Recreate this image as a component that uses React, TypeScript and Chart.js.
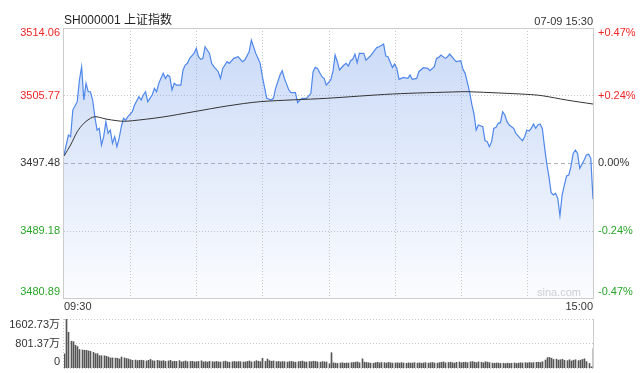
import React, { useEffect, useRef } from "react";
import { Chart, registerables } from "chart.js";
Chart.register(...registerables);

const title = "SH000001 上证指数";
const stamp = "07-09 15:30";
const timeLabels = ["09:30", "15:00"];
const gridMinutes = [30, 60, 90, 120, 150, 180, 210];
const priceTicks = [3514.06, 3505.77, 3497.48, 3489.18, 3480.89];
const pctTicks = ["+0.47%", "+0.24%", "0.00%", "-0.24%", "-0.47%"];
const prevClose = 3497.48;
const volTicks = [1602.73, 801.37, 0];
const volTickLabels = ["1602.73万", "801.37万", "0"];
const watermark = "sina.com";

const priceMinutes = [
  0, 2, 3, 4, 6, 7, 8, 9, 10, 11, 12, 13, 14, 15, 16, 17, 18, 19, 20, 21, 22, 23, 24, 25, 26, 27, 28, 29, 31, 32,
  34, 35, 36, 37, 38, 40, 41, 42, 43, 45, 46, 47, 48, 49, 50, 51, 53, 54, 55, 56, 57, 59, 60, 61, 62, 63, 64, 66, 67, 68,
  70, 71, 72, 74, 75, 77, 79, 81, 82, 84, 85, 87, 88, 89, 90, 92, 94, 95, 96, 98, 99, 100, 102, 103, 105, 106, 107, 108, 110, 112,
  113, 114, 115, 117, 118, 119, 121, 122, 123, 124, 125, 127, 128, 129, 130, 131, 132, 133, 134, 136, 137, 139, 141, 142, 143, 145, 146, 147, 149, 150,
  151, 152, 153, 154, 156, 157, 158, 160, 161, 163, 165, 166, 168, 169, 170, 171, 173, 174, 175, 177, 178, 180, 181, 182, 184, 185, 186, 187, 188, 190,
  191, 192, 193, 194, 195, 196, 197, 198, 199, 200, 201, 202, 204, 205, 207, 208, 209, 210, 211, 212, 213, 214, 215, 216, 217, 218, 219, 220, 221, 222,
  223, 224, 225, 226, 227, 228, 229, 230, 231, 232, 233, 234, 236, 237, 238, 239, 240,
];
const prices = [
  3498.45, 3500.91, 3500.71, 3503.98, 3505.01, 3507.67, 3509.31, 3505.21, 3507.26, 3506.23, 3506.23, 3505.21, 3503.16, 3501.52, 3501.73, 3499.68, 3500.71, 3502.55, 3501.12, 3501.52, 3499.89, 3500.71, 3499.48, 3500.5, 3501.93, 3502.96, 3502.75, 3503.16, 3503.78, 3504.6,
  3505.62, 3505.21, 3505.83, 3506.23, 3505.01, 3505.83, 3506.64, 3506.23, 3507.26, 3508.49, 3507.87, 3508.28, 3508.08, 3506.44, 3507.26, 3507.05, 3507.05, 3508.9, 3509.51, 3509.72, 3510.33, 3510.94, 3511.56, 3510.53, 3510.21, 3510.33, 3511.76, 3510.94, 3509.72, 3509.31,
  3508.69, 3507.87, 3509.1, 3509.92, 3509.72, 3510.33, 3510.53, 3509.92, 3510.12, 3511.15, 3512.58, 3510.94, 3510.33, 3509.72, 3508.08, 3505.42, 3505.21, 3505.42, 3506.64, 3508.28, 3508.81, 3507.87, 3506.44, 3506.11, 3506.11, 3504.88, 3505.21, 3505.42, 3505.42, 3506.03,
  3508.69, 3509.22, 3509.1, 3508.08, 3507.87, 3507.05, 3507.67, 3508.69, 3510.74, 3509.92, 3508.9, 3509.51, 3509.72, 3509.39, 3510.04, 3510.21, 3510.86, 3509.8, 3510.94, 3510.94, 3510.12, 3510.62, 3511.35, 3511.68, 3511.76, 3512.09, 3510.62, 3510.53, 3509.22, 3509.63,
  3509.1, 3507.75, 3507.87, 3507.99, 3507.87, 3508.28, 3507.75, 3507.87, 3508.69, 3509.18, 3509.1, 3508.81, 3509.31, 3510.33, 3510.45, 3510.74, 3510.33, 3510.53, 3510.86, 3510.21, 3509.92, 3510.04, 3508.98, 3508.49, 3506.2, 3504.7, 3503.5, 3501.53, 3502.14, 3501.94,
  3500.22, 3500.1, 3499.48, 3500.1, 3501.73, 3501.86, 3502.35, 3502.43, 3503.78, 3503.37, 3502.55, 3502.14, 3501.73, 3501.12, 3500.51, 3500.22, 3500.71, 3501.53, 3501.41, 3501.73, 3502.27, 3501.73, 3502.14, 3502.27, 3501.73, 3499.48, 3497.43, 3495.8, 3493.83, 3493.54,
  3493.75, 3493.13, 3491.0, 3493.54, 3494.77, 3495.88, 3496.0, 3497.02, 3498.66, 3499.07, 3498.66, 3496.82, 3497.84, 3498.46, 3498.54, 3498.05, 3493.02,
];

const avgMinutes = [0, 3, 6, 9, 12, 14, 16, 19, 24, 27, 31, 44, 59, 74, 89, 119, 149, 180, 184, 210, 217, 228, 240];
const avgPrices = [
  3498.33, 3499.69, 3501.32, 3502.35, 3502.97, 3503.16, 3503.09, 3502.88, 3502.67, 3502.6, 3502.67, 3503.09, 3503.78, 3504.48, 3505.01, 3505.42, 3505.95, 3506.23, 3506.23, 3505.91, 3505.74, 3505.21, 3504.72,
];

// volume per minute, in 万
const volumes = [
  460, 1602, 1170, 876, 860, 745, 700, 605, 590, 580,
  578, 560, 545, 512, 469, 469, 403, 403, 400, 382,
  360, 327, 330, 325, 320, 294, 360, 330, 310, 294,
  272, 250, 260, 240, 250, 255, 245, 230, 250, 280,
  240, 230, 250, 235, 225, 240, 215, 230, 250, 210,
  220, 215, 240, 200, 210, 230, 205, 215, 220, 200,
  205, 215, 235, 200, 210, 195, 220, 205, 200, 215,
  200, 195, 210, 225, 200, 190, 205, 215, 200, 210,
  205, 195, 200, 215, 230, 200, 210, 240, 220, 205,
  316, 215, 294, 240, 220, 230, 205, 215, 200, 210,
  205, 195, 210, 215, 200, 190, 205, 215, 225, 200,
  195, 210, 205, 220, 215, 200, 190, 210, 200, 195,
  140, 500, 170, 160, 150, 165, 170, 155, 165, 160,
  175, 180, 190, 200, 170, 300, 190, 180, 170, 160,
  155, 175, 185, 165, 180, 175, 160, 185, 170, 160,
  165, 170, 160, 175, 165, 155, 170, 160, 165, 175,
  160, 170, 155, 165, 175, 160, 170, 180, 165, 160,
  175, 185, 200, 170, 180, 190, 175, 160, 185, 195,
  170, 185, 190, 175, 200, 210, 190, 175, 200, 185,
  170, 205, 190, 175, 160, 155, 165, 160, 150, 155,
  145, 160, 150, 155, 165, 150, 160, 170, 165, 175,
  165, 180, 170, 175, 185, 190, 180, 205, 260, 340,
  345, 320, 280, 290, 260, 270, 285, 250, 240, 270,
  230, 255, 270, 240, 255, 280, 300, 210, 150, 40,
  632,
];

const W = 644;
const H = 373;
const FONT = '11px "Liberation Sans", Arial, "Noto Sans CJK SC", sans-serif';
const RED = "#f02525";
const GREEN = "#2aa52a";
const DARK = "#333333";

function hLine(ctx: CanvasRenderingContext2D, x1: number, x2: number, y: number) {
  ctx.beginPath();
  ctx.moveTo(x1, y);
  ctx.lineTo(x2, y);
  ctx.stroke();
}
function vLine(ctx: CanvasRenderingContext2D, x: number, y1: number, y2: number) {
  ctx.beginPath();
  ctx.moveTo(x, y1);
  ctx.lineTo(x, y2);
  ctx.stroke();
}

const pricePanel = {
  id: "pricePanel",
  beforeDatasetsDraw(chart: any) {
    const { ctx, chartArea: a, scales } = chart;
    const x = scales.x;
    const y = scales.y;
    ctx.save();
    ctx.lineWidth = 1;
    priceTicks.forEach((v, k) => {
      if (k === 0 || k === priceTicks.length - 1) return;
      const py = Math.round(y.getPixelForValue(v)) + 0.5;
      if (v === prevClose) {
        ctx.strokeStyle = "#b0b0b0";
        ctx.setLineDash([4, 3]);
      } else {
        ctx.strokeStyle = "#c8c8c8";
        ctx.setLineDash([1, 2]);
      }
      hLine(ctx, a.left, a.right, py);
    });
    ctx.strokeStyle = "#c8c8c8";
    ctx.setLineDash([1, 2]);
    gridMinutes.forEach((m) => {
      const px = Math.round(x.getPixelForValue(m)) + 0.5;
      vLine(ctx, px, a.top, a.bottom);
    });
    ctx.restore();
  },
  afterDatasetsDraw(chart: any) {
    const { ctx, chartArea: a } = chart;
    ctx.save();
    ctx.strokeStyle = "#cccccc";
    ctx.lineWidth = 1;
    ctx.setLineDash([]);
    ctx.strokeRect(Math.round(a.left) - 0.5, Math.round(a.top) + 0.5, Math.round(a.right - a.left) + 1, Math.round(a.bottom - a.top));
    ctx.restore();
  },
  afterDraw(chart: any) {
    const { ctx, chartArea: a, scales } = chart;
    const y = scales.y;
    ctx.save();
    ctx.font = FONT;
    ctx.textBaseline = "middle";
    priceTicks.forEach((v, k) => {
      let py = y.getPixelForValue(v);
      if (k === 0) py += 5;
      if (k === priceTicks.length - 1) py -= 6;
      const col = v > prevClose ? RED : v < prevClose ? GREEN : DARK;
      ctx.fillStyle = col;
      ctx.textAlign = "right";
      ctx.fillText(v.toFixed(2), a.left - 4, py);
      ctx.textAlign = "left";
      ctx.fillText(pctTicks[k], a.right + 5, py);
    });
    ctx.fillStyle = DARK;
    ctx.textAlign = "left";
    ctx.fillText(timeLabels[0], a.left, a.bottom + 9);
    ctx.textAlign = "right";
    ctx.fillText(timeLabels[1], a.right, a.bottom + 9);
    ctx.font = '12px "Liberation Sans", Arial, "Noto Sans CJK SC", sans-serif';
    ctx.fillStyle = "#222";
    ctx.textAlign = "left";
    ctx.fillText(title, a.left, a.top - 7);
    ctx.font = FONT;
    ctx.textAlign = "right";
    ctx.fillStyle = DARK;
    ctx.fillText(stamp, a.right, a.top - 6);
    ctx.font = '11px "Liberation Sans", Arial, sans-serif';
    ctx.fillStyle = "#cfcfcf";
    ctx.textAlign = "right";
    ctx.fillText(watermark, a.right - 12, a.bottom - 5);
    ctx.restore();
  },
};

const volumePanel = {
  id: "volumePanel",
  afterDatasetsUpdate(chart: any) {
    const meta = chart.getDatasetMeta(0);
    meta.data.forEach((el: any) => {
      el.x = Math.round(el.x) + 0.5;
    });
  },
  beforeDatasetsDraw(chart: any) {
    const { ctx, chartArea: a, scales } = chart;
    const y = scales.y;
    ctx.save();
    ctx.lineWidth = 1;
    ctx.strokeStyle = "#c8c8c8";
    ctx.setLineDash([1, 2]);
    volTicks.forEach((v) => {
      const py = Math.round(y.getPixelForValue(v)) + 0.5;
      hLine(ctx, a.left, a.right, py);
    });
    vLine(ctx, Math.round(a.left) - 0.5, a.top, a.bottom);
    ctx.setLineDash([]);
    ctx.strokeStyle = "#cccccc";
    vLine(ctx, Math.round(a.right) + 0.5, a.top, a.bottom);
    ctx.restore();
  },
  afterDraw(chart: any) {
    const { ctx, chartArea: a, scales } = chart;
    const y = scales.y;
    ctx.save();
    ctx.font = FONT;
    ctx.textBaseline = "middle";
    ctx.textAlign = "right";
    ctx.fillStyle = DARK;
    volTicks.forEach((v, k) => {
      let py = y.getPixelForValue(v);
      if (k === 0) py += 6;
      if (k === volTicks.length - 1) py -= 6;
      ctx.fillText(volTickLabels[k], a.left - 4, py);
    });
    ctx.restore();
  },
};

export default function App() {
  const priceRef = useRef<HTMLCanvasElement | null>(null);
  const volRef = useRef<HTMLCanvasElement | null>(null);

  useEffect(() => {
    const pc = priceRef.current!;
    const vc = volRef.current!;
    const priceChart = new Chart(pc, {
      type: "line",
      data: {
        datasets: [
          {
            label: "avg",
            data: avgMinutes.map((m, i) => ({ x: m, y: avgPrices[i] })),
            borderColor: "#333333",
            borderWidth: 1,
            pointRadius: 0,
            fill: false,
            tension: 0.3,
          },
          {
            label: "price",
            data: priceMinutes.map((m, i) => ({ x: m, y: prices[i] })),
            borderColor: "#4f87ea",
            borderWidth: 1.2,
            pointRadius: 0,
            tension: 0,
            fill: "start",
            backgroundColor: (c: any) => {
              const { chart } = c;
              const a = chart.chartArea;
              if (!a) return "rgba(120,160,235,0.3)";
              const g = chart.ctx.createLinearGradient(0, a.top, 0, a.bottom);
              g.addColorStop(0, "rgba(120,160,235,0.40)");
              g.addColorStop(1, "rgba(120,160,235,0.03)");
              return g;
            },
          },
        ],
      },
      options: {
        responsive: false,
        maintainAspectRatio: false,
        devicePixelRatio: 1,
        animation: false,
        events: [],
        layout: { padding: { left: 64, top: 28, right: W - 593, bottom: H - 298 } },
        plugins: { legend: { display: false }, tooltip: { enabled: false } },
        scales: {
          x: { type: "linear", min: 0, max: 240, display: false },
          y: { type: "linear", min: priceTicks[priceTicks.length - 1], max: priceTicks[0], display: false },
        },
      },
      plugins: [pricePanel],
    } as any);

    const volChart = new Chart(vc, {
      type: "bar",
      data: {
        datasets: [
          {
            label: "vol",
            data: volumes.map((v, i) => ({ x: i, y: v })),
            backgroundColor: "#555555",
            barThickness: 1,
          },
        ],
      },
      options: {
        responsive: false,
        maintainAspectRatio: false,
        devicePixelRatio: 1,
        animation: false,
        events: [],
        layout: { padding: { left: 64, top: 319, right: W - 593, bottom: H - 368 } },
        plugins: { legend: { display: false }, tooltip: { enabled: false } },
        scales: {
          x: { type: "linear", min: 0, max: 240, display: false, offset: false },
          y: { type: "linear", min: 0, max: volTicks[0], display: false },
        },
      },
      plugins: [volumePanel],
    } as any);

    return () => {
      priceChart.destroy();
      volChart.destroy();
    };
  }, []);

  return (
    <div style={{ position: "absolute", left: 0, top: 0, width: W, height: H, background: "#fff" }}>
      <canvas ref={priceRef} width={W} height={H} style={{ position: "absolute", left: 0, top: 0, width: W, height: H }} />
      <canvas ref={volRef} width={W} height={H} style={{ position: "absolute", left: 0, top: 0, width: W, height: H }} />
    </div>
  );
}
